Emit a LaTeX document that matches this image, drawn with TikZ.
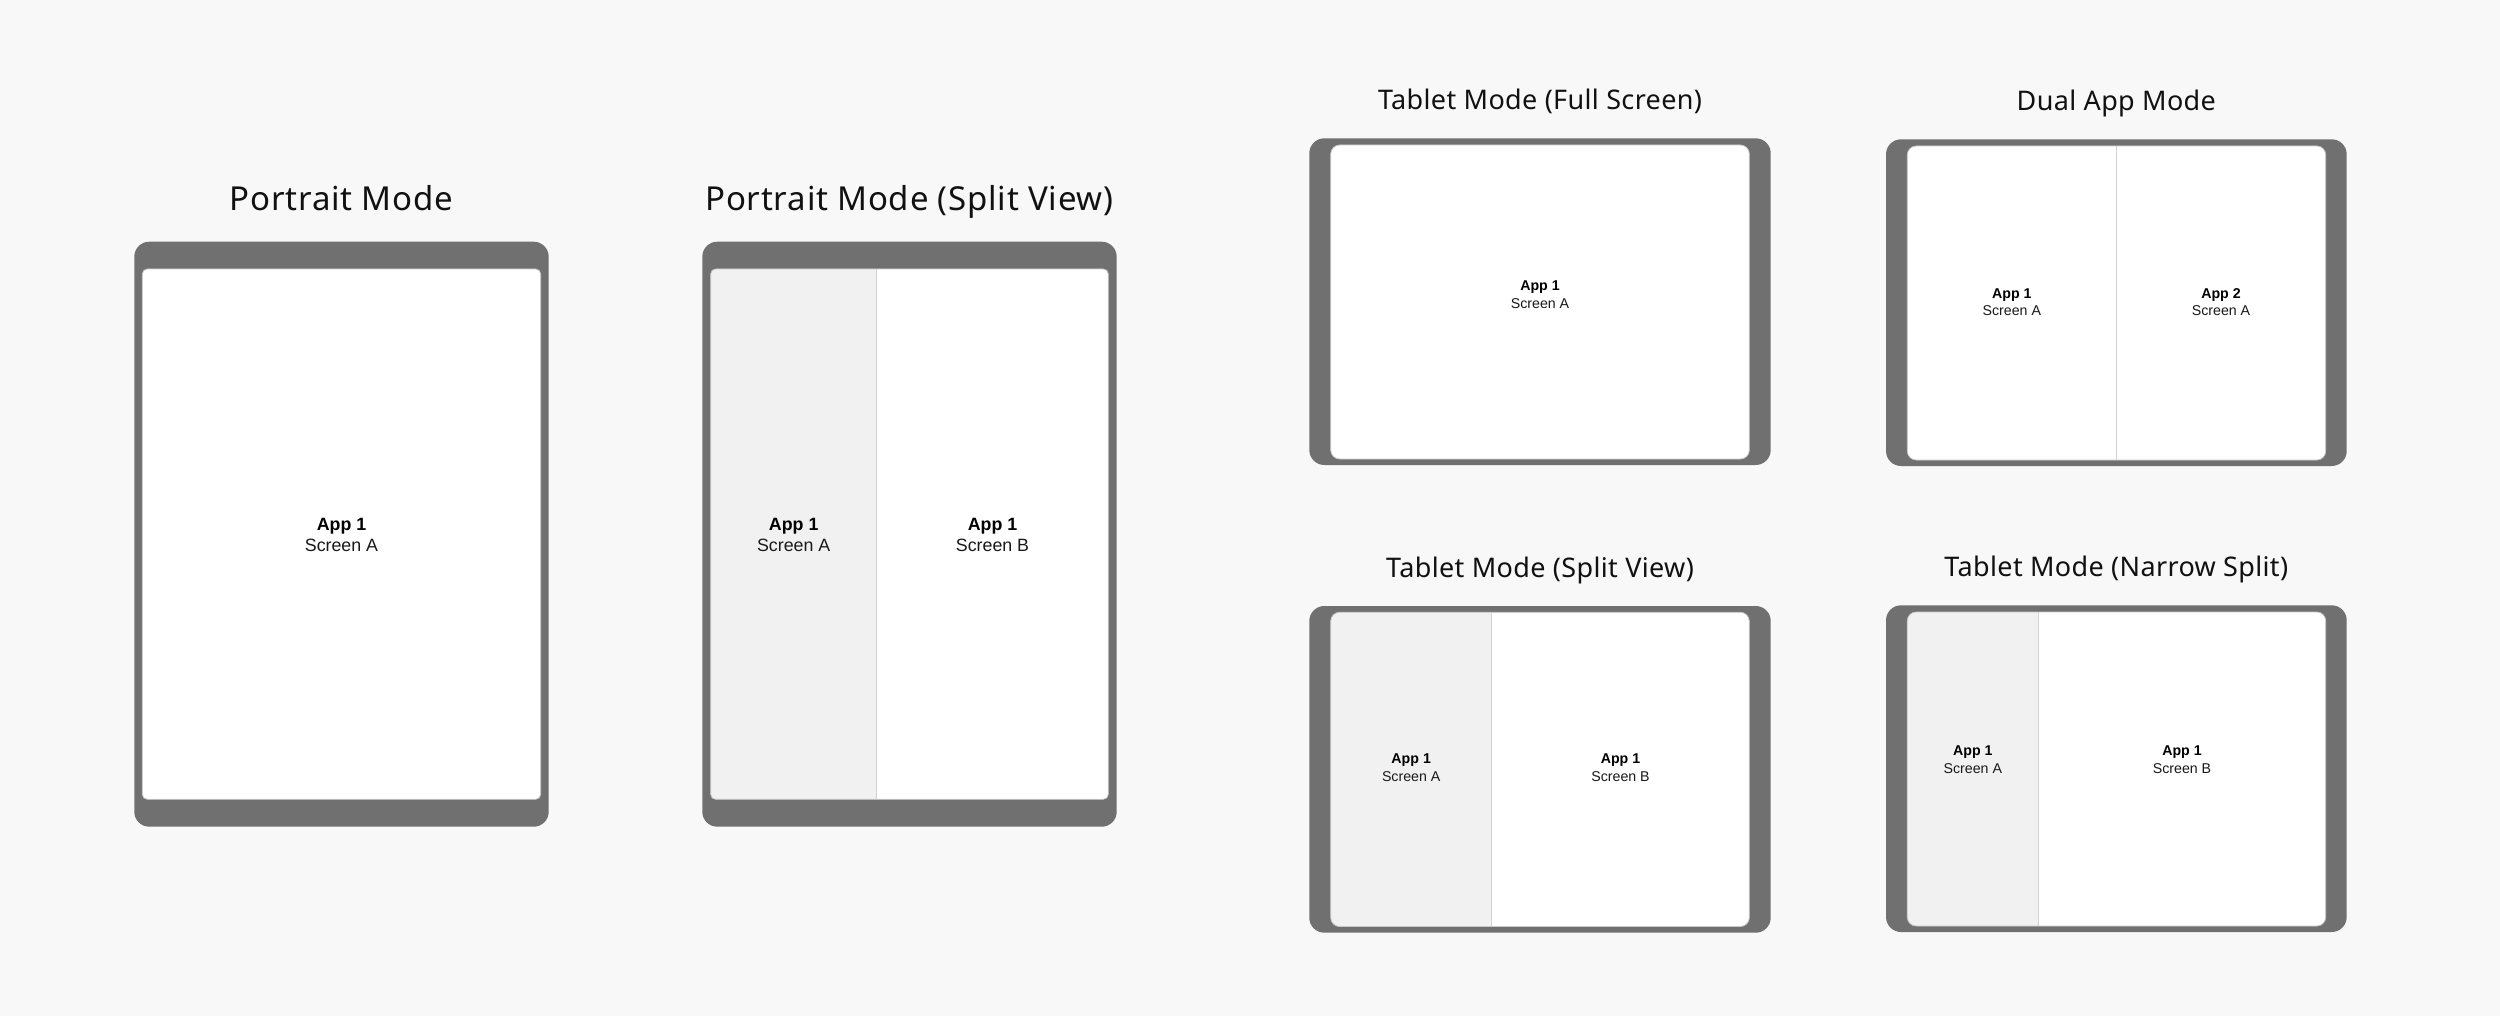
\documentclass[tikz,border=0pt]{standalone}
\usepackage{fontspec}
\setmainfont{Noto Sans}
\newfontfamily\ptitlefont[LetterSpace=2.3]{Noto Sans}
\newfontfamily\ttitlefont[LetterSpace=1.3]{Noto Sans}
\newfontfamily\labelfont{Liberation Sans}
\definecolor{bg}{HTML}{F8F8F8}
\definecolor{framegray}{HTML}{707070}
\definecolor{pane}{HTML}{F1F1F1}
\definecolor{divider}{HTML}{D2D2D2}
\definecolor{edge}{HTML}{C8C8C8}
\definecolor{ink}{HTML}{111111}
\tikzset{
  bezel/.style={fill=framegray, rounded corners=15pt},
  screen/.style={fill=white, draw=edge, line width=0.8pt, rounded corners=#1},
  leftpane/.style={fill=pane},
  divline/.style={draw=divider, line width=1.4pt},
  ptitle/.style={anchor=base, inner sep=0pt, text=ink, font=\ptitlefont\fontsize{33}{39}\selectfont},
  ttitle/.style={anchor=base, inner sep=0pt, text=ink, font=\ttitlefont\fontsize{27}{32}\selectfont},
  plabA/.style={anchor=base, inner sep=0pt, text=black, font=\labelfont\fontsize{17.8}{21}\selectfont\bfseries},
  plabB/.style={anchor=base, inner sep=0pt, text=black!90, font=\labelfont\fontsize{17.8}{21}\selectfont},
  tlabA/.style={anchor=base, inner sep=0pt, text=black, font=\labelfont\fontsize{14.2}{17}\selectfont\bfseries},
  tlabB/.style={anchor=base, inner sep=0pt, text=black!90, font=\labelfont\fontsize{14.2}{17}\selectfont},
}
\begin{document}
\begin{tikzpicture}[x=1pt,y=-1pt]
\fill[bg] (0,0) rectangle (2500,1016);
\useasboundingbox (0,0) rectangle (2500,1016);

% ---------- Portrait Mode ----------
\node[ptitle] (t1) at (341.5,210.7) {Portrait Mode};
\fill[bezel] (134.3,241.7) rectangle (548.7,826.7);
\draw[screen=5pt] (142.3,269) rectangle (540.7,799.3);
\node[plabA] (p1a) at (341.5,530) {App 1};
\node[plabB] (p1b) at (341.5,551.7) {Screen A};

% ---------- Portrait Mode (Split View) ----------
\node[ptitle] (t2) at (909.5,210.7) {Portrait Mode (Split View)};
\fill[bezel] (702.3,241.7) rectangle (1116.7,826.7);
\fill[white, rounded corners=5pt] (710.7,269) rectangle (1108.3,799.3);
\begin{scope}
  \clip[rounded corners=5pt] (710.7,269) rectangle (1108.3,799.3);
  \fill[leftpane] (710.7,269) rectangle (876.7,799.3);
\end{scope}
\draw[divline] (876.7,269) -- (876.7,799.3);
\draw[edge, line width=0.8pt, rounded corners=5pt] (710.7,269) rectangle (1108.3,799.3);
\node[plabA] (p2a) at (793.7,530) {App 1};
\node[plabB] (p2b) at (793.7,551.7) {Screen A};
\node[plabA] (p2c) at (992.5,530) {App 1};
\node[plabB] (p2d) at (992.5,551.7) {Screen B};

% ---------- Tablet Mode (Full Screen) ----------
\node[ttitle] (t3) at (1540,110) {Tablet Mode (Full Screen)};
\fill[bezel] (1309.3,138.3) rectangle (1770.7,465);
\draw[screen=9pt] (1330.7,145) rectangle (1749.3,459);
\node[tlabA] (p3a) at (1540,290.7) {App 1};
\node[tlabB] (p3b) at (1540,308.3) {Screen A};

% ---------- Dual App Mode ----------
\node[ttitle] (t4) at (2116.3,110.7) {Dual App Mode};
\fill[bezel] (1886,139.3) rectangle (2346.7,466);
\draw[screen=9pt] (1907.3,146) rectangle (2325.7,460);
\draw[divline] (2116.3,146) -- (2116.3,460);
\node[tlabA] (p4a) at (2011.8,298.3) {App 1};
\node[tlabB] (p4b) at (2011.8,315.7) {Screen A};
\node[tlabA] (p4c) at (2221,298.3) {App 2};
\node[tlabB] (p4d) at (2221,315.7) {Screen A};

% ---------- Tablet Mode (Split View) ----------
\node[ttitle] (t5) at (1540,577.3) {Tablet Mode (Split View)};
\fill[bezel] (1309.3,606) rectangle (1770.7,932.7);
\fill[white, rounded corners=9pt] (1330.7,612.3) rectangle (1749.3,926.5);
\begin{scope}
  \clip[rounded corners=9pt] (1330.7,612.3) rectangle (1749.3,926.5);
  \fill[leftpane] (1330.7,612.3) rectangle (1491.7,926.5);
\end{scope}
\draw[divline] (1491.7,612.3) -- (1491.7,926.5);
\draw[edge, line width=0.8pt, rounded corners=9pt] (1330.7,612.3) rectangle (1749.3,926.5);
\node[tlabA] (p5a) at (1411.2,763.5) {App 1};
\node[tlabB] (p5b) at (1411.2,781) {Screen A};
\node[tlabA] (p5c) at (1620.5,763.5) {App 1};
\node[tlabB] (p5d) at (1620.5,781) {Screen B};

% ---------- Tablet Mode (Narrow Split) ----------
\node[ttitle] (t6) at (2116.3,576.7) {Tablet Mode (Narrow Split)};
\fill[bezel] (1886,605.3) rectangle (2346.7,932);
\fill[white, rounded corners=9pt] (1907.3,612) rectangle (2325.7,926);
\begin{scope}
  \clip[rounded corners=9pt] (1907.3,612) rectangle (2325.7,926);
  \fill[leftpane] (1907.3,612) rectangle (2038.3,926);
\end{scope}
\draw[divline] (2038.3,612) -- (2038.3,926);
\draw[edge, line width=0.8pt, rounded corners=9pt] (1907.3,612) rectangle (2325.7,926);
\node[tlabA] (p6a) at (1972.8,755.5) {App 1};
\node[tlabB] (p6b) at (1972.8,773) {Screen A};
\node[tlabA] (p6c) at (2182,755.5) {App 1};
\node[tlabB] (p6d) at (2182,773) {Screen B};
\end{tikzpicture}
\end{document}
